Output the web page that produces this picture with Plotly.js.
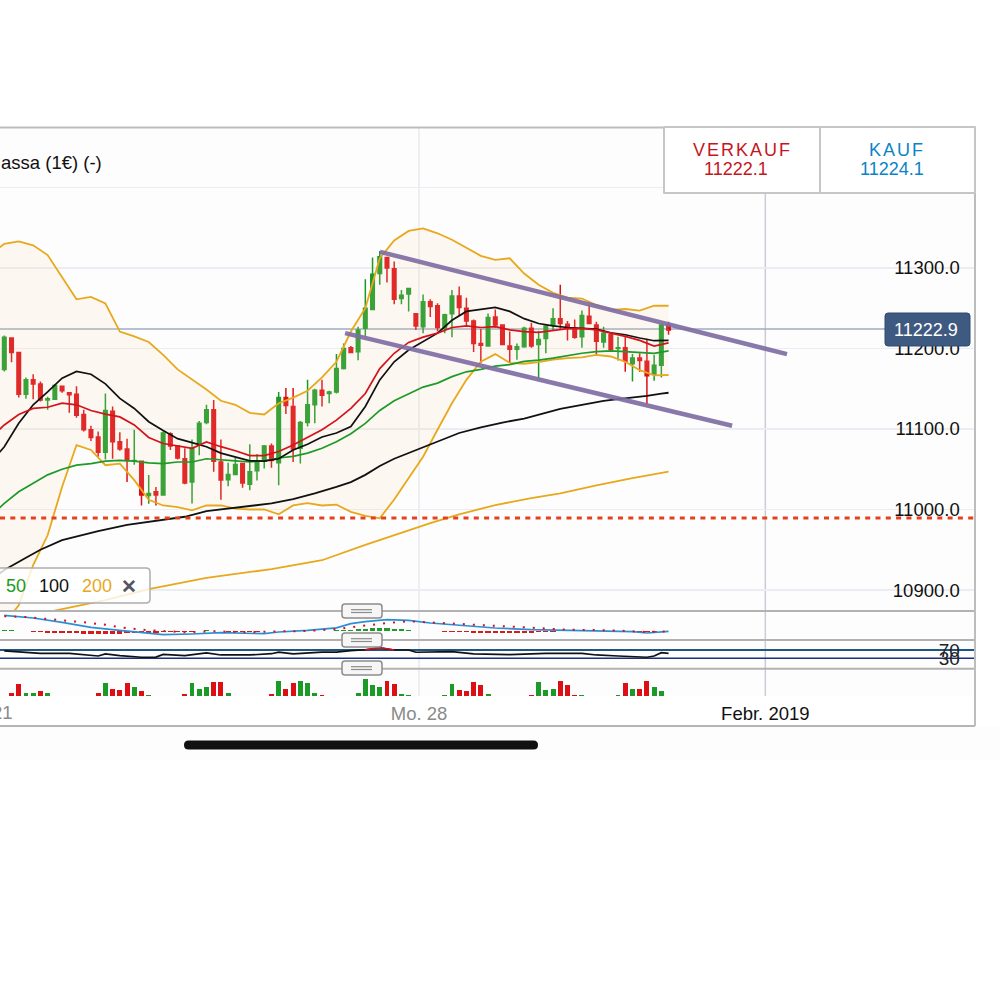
<!DOCTYPE html>
<html><head><meta charset="utf-8">
<script src="https://cdn.plot.ly/plotly-3.0.0.min.js"></script>
<style>
html,body{margin:0;padding:0;background:#fff}
text[data-unformatted="VERKAUF"],text[data-unformatted="KAUF"]{letter-spacing:2px}
</style></head><body><div id="c" style="width:1000px;height:1000px"></div>
<script>
// candle index 0..92
const open_=[11174,11213,11195,11143,11161,11156,11136,11137,11153,11145,11143,11118,11099,11090,11071,11122,11084,11075,11060.5,11060,11017.5,11022,11018,11094,11079,11063,11034,11082,11108,11124,11059,11037,11043.5,11057,11031.5,11048,11060,11079,11058,11139,11128,11076,11108,11130,11148,11144,11146,11175,11201,11196,11225,11248.5,11293,11313,11299,11262,11267.5,11243,11227,11258,11253,11225,11243,11265,11250,11234,11206,11203,11239,11229,11203,11199,11202,11225,11205,11212.5,11229,11237,11230,11225,11214.5,11240,11229,11208,11217,11200,11201,11181,11188,11184,11168,11179,11229];
const close_=[11214,11195,11143,11161,11156,11136,11137.5,11154,11147.5,11142.5,11117,11099,11089.5,11071,11123,11084,11075,11061,11061,11018,11020,11018,11095,11079,11064,11033,11076,11107,11124,11060,11036.5,11043.5,11056,11033,11047,11059,11079,11061,11139,11129,11075,11108,11130,11148,11142,11146,11175,11200,11195,11223,11250,11292,11314,11300,11261,11266,11274.5,11228,11258,11252,11226,11242,11265,11251,11234,11206,11204,11238.5,11229,11205,11199,11202,11225,11203,11211,11228,11237,11231,11227,11214,11241,11231,11209,11219,11199,11201,11184,11188,11185,11166,11179,11229,11222.9];
const high_=[11216,11213,11195,11164,11168,11159,11140,11156,11154,11145,11153,11124,11104,11097,11144,11128,11096,11088,11099,11061,11043,11028,11097,11096,11080,11076,11087,11110,11130,11136,11087,11058,11065,11057,11081,11069,11080,11082,11146,11151,11151,11110,11161,11150,11161,11147.5,11193,11206,11203,11227,11286,11313,11321,11314,11308,11272.5,11274.5,11243.5,11267,11261,11256,11243,11272.5,11277,11263,11236,11224,11243.5,11248.5,11230,11221,11206,11227,11232,11222,11229,11250,11279,11234,11236,11247,11254,11233,11227,11219,11214.5,11215,11193,11194,11212,11192,11230,11233];
const low_=[11171.5,11183,11139,11137.5,11137,11134,11124,11136,11145,11120,11114,11097,11085,11065.5,11062,11063,11073,11034,11055.5,11005,11007,11005,11017,11074,11062,11031.5,11007.5,11067.5,11106,11047,11012,11029,11043,11027,11024,11036,11051,11052,11030,11118.5,11059,11057,11103,11107,11128,11132,11144,11174,11194,11185.5,11214.5,11248,11279,11282,11255,11255,11246,11223,11219,11239,11221,11219,11214,11241,11229,11195.5,11182,11202,11226,11204,11182,11186,11201,11201,11163,11194,11223,11223,11210,11212,11201,11230,11192,11201,11198,11185,11171,11159,11171,11131,11160,11164,11217];
const candleIdx=open_.map((_,i)=>i);

// bands and averages, read every second candle
const lineIdx=[-2,0,2,4,6,8,10,12,14,16,18,20,22,24,26,28,30,32,34,36,38,40,42,44,46,48,50,52,54,56,58,60,62,64,66,68,70,72,74,76,78,80,82,84,86,88,90,92];
const bbUpper=[11316,11330,11333,11328,11316,11289,11261,11264,11256,11221,11215,11208,11192,11174,11161.5,11149,11135,11130,11120,11118,11132,11139,11147.5,11164,11183.5,11221,11250,11312,11334,11346,11349,11343,11335,11325.5,11315,11310,11312,11293,11279,11269,11263,11262,11254,11248,11249,11247,11253,11253];
const bbLower=[10809,10858.5,10881,10931,10968,11028,11080,11074,11055,11057,11036.5,11012,11005,11003,10999,11005,11005,11001,11000,11000,10994,11005,11008,11005,11006,10997,10992,10989,11012.5,11039,11065.5,11099,11132,11161,11183.5,11193,11182,11181,11183,11186,11188,11189,11192,11190,11183.5,11173,11166.5,11167];
const maRed=[11088,11105,11118,11125.5,11127,11132,11130,11123,11118.5,11115,11105,11089.5,11082,11079,11076,11084,11078,11073,11067,11067,11072,11080,11089.5,11099,11111,11125.5,11144,11175,11194,11207.5,11214,11219,11226,11228,11226,11227,11223,11221,11220,11222,11224.5,11225,11223,11219,11215,11210,11203,11207];
const ma20=[11057,11078,11107,11130,11146,11163,11171.5,11168,11156,11138,11125.5,11109,11098,11088,11083,11078,11070,11065,11060.5,11060,11063,11074,11081,11090,11095,11103,11128,11161,11183.5,11198,11208,11219,11235,11246,11248.5,11251,11246,11237,11231,11228,11226,11225,11224,11219.5,11217,11213,11209.6,11210];
const ma50=[10991,11007.5,11022,11033,11043,11050,11055,11057,11060,11061,11060,11058,11057,11059,11059,11063,11062,11060.5,11059,11060.5,11064,11066,11070,11076,11084,11094,11107,11123,11135,11144,11152,11157,11165,11171,11174,11178,11180,11184,11185.5,11188,11191,11194,11196,11197,11196,11195,11194,11197];
const ma100Idx=[-1,0,3,5,8,11,13,17,21,25,28,31,34,37,40,43,46,48,50,52,54,57,59,61,63,66,69,72,75,77,80,83,85,87,89,91,92];
const ma100=[10918.5,10925,10940,10950,10962,10969,10973,10981,10986,10991,10998,11001,11004,11007.5,11013,11020,11028,11034,11043,11054,11063,11074,11081,11088,11095,11102,11108,11113,11120,11125,11130,11135,11137,11139,11141,11144,11145];
const ma200Idx=[3,7,10,14,20,28,37,44,50,56,59,63,68,73,77,82,87,92];
const ma200=[10867,10874,10880,10887.5,10901,10915,10926,10937,10956,10974,10983,10994,11005.5,11014,11020,11030,11039,11047];

// hand-drawn lines and levels
const trendUpperX=[52.03,108.4], trendUpperY=[11320,11193];
const trendLowerX=[47.2,100.8], trendLowerY=[11219,11104];
const supportLevel=10989.4, lastLevel=11224;
const priceTicks=[10900,11000,11100,11200,11300,11400];

// MACD panel
const macdIdx=[0,2,4,8,12,16,20,22,26,30,36,38,42,46,48,50,53,56,59,64,68,73,78,82,87,89,92];
const macd=[15.7,14.7,13,8.7,3.7,0.7,-2.7,-3.7,-3,-1.7,-2.7,-1,0.7,3.2,7.3,9.3,11.3,10.7,8,5.3,3,1.3,0.7,0,-0.7,-2,-0.3];
const signalIdx=[0,3,6,9,11,14,16,19,22,25,29,34,38,42,46,49,53,56,59,63,68,72,78,84,89,92];
const signal=[14.7,14,12,10.3,8.7,6.3,3.7,1.3,-0.3,-1.3,-0.3,-1.3,-0.3,0,2,4.7,8,9.7,8.7,7.3,5.3,3.7,1.3,0.7,-1,-0.3];
const histIdx=candleIdx;
const hist=[1,1,0.3,-0.3,-0.8,-1.2,-1.6,-1.8,-2,-2.2,-2.4,-2.6,-2.8,-3,-3,-2.8,-2.6,-2.4,-2.2,-2.2,-2,-1.6,-1.4,-1.2,-1.2,-1,-0.8,0.4,0.6,-0.4,-0.4,-0.5,-0.5,-0.5,-0.6,-0.5,-0.4,-0.4,0.3,0.5,0.3,-0.4,-0.4,-0.3,-0.4,0.3,1,1.2,1.5,2,2.5,2.8,3,3,2.5,2,1.2,0.5,0.2,0.1,-0.3,-0.6,-0.8,-1,-1.2,-1.5,-1.8,-2,-2.2,-2.2,-2.2,-2,-1.8,-1.6,-1.4,-1,-0.5,-0.3,-0.3,-0.2,-0.2,-0.2,-0.2,-0.3,-0.3,-0.3,-0.4,-0.4,-0.5,-0.5,-0.5,-0.4,-0.3];
const histColor=hist.map(v=>v>=0?'#1d9a28':'#d91a1a');

// RSI panel
const rsiIdx=[0,2,5,9,13,14,16,19,21,22,25,28,30,34,37,38,40,44,46,48,50,52,54,56,57,62,65,70,75,80,82,85,89,90,91,92];
const rsi=[66,62,54,54,41,51,43,35,36,49,43,56,46,46,52,60,51,60,60,67,71,80,70,70,59,62,51,48,54,54,46,41,35,41,57,54];
const rsiOverIdx=[50,51,52,53,54];
const rsiOver=[71,74,80,76,70];
const rsiTicks=[30,70];

// volume panel
const volIdx=[1,2,3,4,5,6,13,14,15,16,17,18,19,20,25,26,27,28,29,30,31,32,37,38,39,40,41,42,43,44,49,50,51,52,53,54,55,56,61,62,63,64,65,66,67,68,73,74,75,76,77,78,79,80,85,86,87,88,89,90,91,92];
const vol=[8,36,10,10,14,10,8,40,22,18,38,28,14,4,6,38,20,26,42,42,8,1,5,45,20,38,46,40,10,2,8,52,32,28,46,36,5,2,3,36,18,16,42,32,6,1,4,42,18,22,44,34,4,3,3,38,22,20,44,28,14,1];
const volUp=[0,0,1,1,0,1,0,1,0,0,0,1,0,1,0,1,1,1,0,0,1,1,0,1,0,0,1,1,1,0,1,1,1,1,0,0,1,1,1,1,0,0,0,0,1,0,0,1,1,1,0,0,0,1,1,0,1,0,0,1,1,0];
const legendPeriods=['50','100','200'];
const sellLabel='VERKAUF', sellPrice='11222.1', buyLabel='KAUF', buyPrice='11224.1', lastPrice='11222.9';
const monthTicks=[57.44,105.4], monthLabels=['Mo. 28','<span style="color:#111">Febr. 2019</span>'];

const GREEN='#1c9a27', RED='#dc0f15', ORANGE='#e8a81c', FONT='"Liberation Sans",Arial,sans-serif';
const px=x=>x/1000, py=y=>1-y/1000;
function rr(x0,y0,x1,y1,r){
  const X=x=>px(x).toFixed(5), Y=y=>py(y).toFixed(5);
  return `M${X(x0+r)},${Y(y0)}L${X(x1-r)},${Y(y0)}Q${X(x1)},${Y(y0)} ${X(x1)},${Y(y0+r)}L${X(x1)},${Y(y1-r)}Q${X(x1)},${Y(y1)} ${X(x1-r)},${Y(y1)}L${X(x0+r)},${Y(y1)}Q${X(x0)},${Y(y1)} ${X(x0)},${Y(y1-r)}L${X(x0)},${Y(y0+r)}Q${X(x0)},${Y(y0)} ${X(x0+r)},${Y(y0)}Z`;
}
const pline=(x0,y0,x1,y1,c,w,layer)=>({type:'line',xref:'paper',yref:'paper',x0:px(x0),x1:px(x1),y0:py(y0),y1:py(y1),line:{color:c,width:w},layer:layer||'above'});
const box=(x0,y0,x1,y1,fill,c,w,r,layer)=>({type:'path',xref:'paper',yref:'paper',path:rr(x0,y0,x1,y1,r||0.01),fillcolor:fill,line:{color:c||'rgba(0,0,0,0)',width:w||0},layer:layer||'above'});
const ln=(x,y,c,w,extra)=>Object.assign({type:'scatter',mode:'lines',x,y,line:{color:c,width:w},hoverinfo:'skip',showlegend:false},extra||{});

const traces=[
 {type:'candlestick',x:candleIdx,open:open_,high:high_,low:low_,close:close_,xaxis:'x',yaxis:'y',
  increasing:{line:{color:GREEN,width:1.5},fillcolor:GREEN},decreasing:{line:{color:RED,width:1.5},fillcolor:RED},whiskerwidth:0,hoverinfo:'skip',showlegend:false},
 ln(lineIdx,bbUpper,ORANGE,1.8),
 ln(lineIdx,bbLower,ORANGE,1.8,{fill:'tonexty',fillcolor:'rgba(245,215,170,0.14)'}),
 ln(ma200Idx,ma200,ORANGE,1.8),
 ln(ma100Idx,ma100,'#111',1.8),
 ln(lineIdx,ma50,'#1d9a28',1.7),
 ln(lineIdx,ma20,'#111',1.7),
 ln(lineIdx,maRed,'#d5121a',1.7),
 ln(trendUpperX,trendUpperY,'#7f6ca3',4.5,{opacity:.92}),
 ln(trendLowerX,trendLowerY,'#7f6ca3',4.5,{opacity:.92}),
 {type:'bar',x:histIdx,y:hist,yaxis:'y2',width:.72,marker:{color:histColor},hoverinfo:'skip',showlegend:false},
 ln(macdIdx,macd,'#2c8fd6',1.7,{yaxis:'y2'}),
 ln(signalIdx,signal,'#d5121a',2,{yaxis:'y2',line:{color:'#d5121a',width:2,dash:'2px,8px'}}),
 ln(rsiIdx,rsi,'#111',1.7,{yaxis:'y3'}),
 ln(rsiOverIdx,rsiOver,'#d5121a',1.7,{yaxis:'y3'}),
 {type:'bar',x:volIdx,y:vol,yaxis:'y4',width:.68,marker:{color:volUp.map(u=>u?GREEN:RED)},hoverinfo:'skip',showlegend:false}
];

const noGrid={showgrid:false,zeroline:false,showticklabels:false,ticks:'',anchor:'x',side:'right',fixedrange:true};
const insideTicks={side:'right',anchor:'x',ticks:'inside',ticklen:16,tickcolor:'rgba(0,0,0,0)',ticklabelposition:'inside',ticklabeloverflow:'allow',zeroline:false,tickmode:'array',fixedrange:true};
const layout={
 width:1000,height:1000,margin:{l:0,r:0,t:0,b:0},paper_bgcolor:'#fff',plot_bgcolor:'#fdfdfd',showlegend:false,boxgap:.3,bargap:0,barmode:'overlay',
 font:{family:FONT,color:'#111'},
 xaxis:{domain:[0,.975],range:[-.596,134.44],anchor:'y4',showgrid:false,zeroline:false,rangeslider:{visible:false},
  tickmode:'array',tickvals:monthTicks,ticktext:monthLabels,ticks:'outside',ticklen:1,tickcolor:'rgba(0,0,0,0)',tickfont:{family:FONT,size:18.5,color:'#8a8a8a'},fixedrange:true},
 yaxis:Object.assign({},insideTicks,{domain:[py(610),py(127)],range:[10875.2,11475],tickvals:priceTicks,tickformat:'.1f',showgrid:true,gridcolor:'#ecedf2',gridwidth:1.3,tickfont:{family:FONT,size:18.5,color:'#111'}}),
 yaxis2:Object.assign({},noGrid,{domain:[py(639),py(611)],range:[-8,20]}),
 yaxis3:Object.assign({},insideTicks,{domain:[py(668),py(640)],range:[-16.7,118],tickvals:rsiTicks,showgrid:false,tickfont:{family:FONT,size:19,color:'#222'}}),
 yaxis4:Object.assign({},noGrid,{domain:[py(696),py(669)],range:[0,81]}),
 shapes:[
  box(0,727,1000,760,'#fdfdfd',null,0,.01,'below'),
  box(708,700,818,724,'#ffffff',null,0,.01,'between'),
  {type:'line',xref:'x',yref:'paper',x0:monthTicks[0],x1:monthTicks[0],y0:py(696),y1:py(127),line:{color:'#e4e6ec',width:1.3},layer:'below'},
  {type:'line',xref:'x',yref:'paper',x0:monthTicks[1],x1:monthTicks[1],y0:py(696),y1:py(127),line:{color:'#c8ccd5',width:1.5},layer:'below'},
  {type:'line',xref:'paper',yref:'y',x0:0,x1:px(885),y0:lastLevel,y1:lastLevel,line:{color:'#9dabc2',width:1.5},layer:'between'},
  {type:'line',xref:'paper',yref:'y',x0:0,x1:px(975),y0:supportLevel,y1:supportLevel,line:{color:'#e5401c',width:3,dash:'5px,5.3px'},layer:'above'},
  {type:'line',xref:'paper',yref:'y3',x0:0,x1:px(975),y0:rsiTicks[1],y1:rsiTicks[1],line:{color:'#1d5585',width:2},layer:'below'},
  {type:'line',xref:'paper',yref:'y3',x0:0,x1:px(975),y0:rsiTicks[0],y1:rsiTicks[0],line:{color:'#1a2f7d',width:1.4},layer:'below'},
  pline(0,611,975,611,'#b2b2b2',2),pline(0,640,975,640,'#b2b2b2',2),pline(0,668.7,975,668.7,'#b2b2b2',2),
  pline(0,127.5,975,127.5,'#bdbdbd',2),pline(0,726,975,726,'#b5b5b5',2),pline(975,127,975,726,'#bdbdbd',2),
  box(664,127,820,193,'#ffffff','#c6c6c6',2),box(820,127,975,193,'#ffffff','#c6c6c6',2),
  box(885,313,970,346,'#3f5a80','#2f4a70',1,3),
  box(-10,568,150,603,'rgba(255,255,255,.8)','#adadad',1.5,4),
  box(342,604,382,618,'#f6f6f6','#8c8c8c',1.5,3),pline(351,609.7,372,609.7,'#8c8c8c',1.2),pline(351,612.5,372,612.5,'#8c8c8c',1.2),
  box(342,633,382,647,'#f6f6f6','#8c8c8c',1.5,3),pline(351,638.7,372,638.7,'#8c8c8c',1.2),pline(351,641.5,372,641.5,'#8c8c8c',1.2),
  box(342,661,382,675,'#f6f6f6','#8c8c8c',1.5,3),pline(351,666.7,372,666.7,'#8c8c8c',1.2),pline(351,669.5,372,669.5,'#8c8c8c',1.2),
  box(184,740.5,538,749.5,'#111111',null,0,4.5)
 ],
 annotations:[]
};
const note=(text,x,y,color,size,anchor,extra)=>Object.assign({xref:'paper',yref:'paper',x:px(x),y:py(y),text,showarrow:false,xanchor:anchor||'center',yanchor:'middle',font:{family:FONT,size,color}},extra||{});
layout.annotations=[
 note('assa (1€) (-)',-1,162,'#111',18.5,'left'),
 note(sellLabel,742,150,'#c4161c',18),note(sellPrice,736,169,'#c4161c',18),
 note(buyLabel,897,150,'#0a84c4',18),note(buyPrice,892,169,'#0a84c4',18),
 note(lastPrice,926,330,'#ffffff',18),
 note(legendPeriods[0],16,586,'#1d9a28',18),note(legendPeriods[1],54,586,'#111',18),note(legendPeriods[2],97,586,ORANGE,18),
 note('<b>✕</b>',129,586,'#55555f',19),
 note('21',15,712,'#8a8a8a',18.5,'right')
];
Plotly.newPlot('c',traces,layout,{displayModeBar:false,staticPlot:true});
</script></body></html>
